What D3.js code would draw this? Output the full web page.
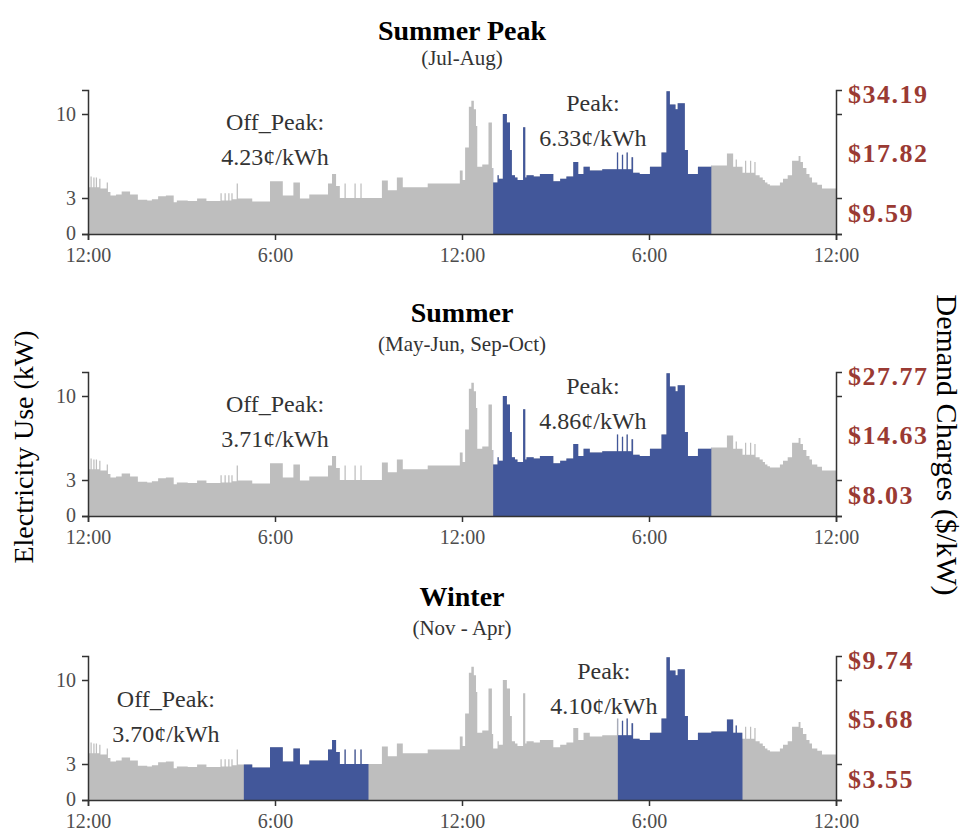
<!DOCTYPE html>
<html>
<head>
<meta charset="utf-8">
<script src="https://cdn.jsdelivr.net/npm/d3@7"></script>
<style>
  body { margin: 0; background: #fff; }
  text { font-family: "Liberation Serif", "DejaVu Serif", serif; }
</style>
</head>
<body>
<script>
// Typical daily load profile (kW), as step breakpoints: hour of day -> kW until next breakpoint
const loadHour = [
  0.00, 0.08, 0.12, 0.17, 0.21, 0.25, 0.29, 0.36, 0.40, 0.60,
  0.64, 0.72, 0.90, 1.08, 1.35, 1.60, 1.90, 2.05, 2.25, 2.50,
  2.75, 2.85, 3.20, 3.50, 3.80, 4.25, 4.29, 4.38, 4.42, 4.50,
  4.54, 4.60, 4.64, 4.77, 4.81, 5.27, 5.84, 6.25, 6.59, 6.80,
  7.10, 7.70, 7.83, 7.96, 8.08, 8.23, 8.27, 8.55, 8.59, 8.74,
  8.78, 9.43, 9.62, 9.91, 10.10, 10.90, 11.93, 12.02, 12.10, 12.22,
  12.30, 12.38, 12.45, 12.49, 12.65, 12.85, 12.96, 13.00, 13.14, 13.18,
  13.31, 13.44, 13.54, 13.60, 13.70, 13.78, 13.96, 14.03, 14.07, 14.30,
  14.50, 14.93, 15.15, 15.35, 15.57, 15.73, 15.90, 16.10, 16.50, 16.97,
  17.01, 17.13, 17.17, 17.28, 17.32, 17.44, 17.49, 17.70, 18.03, 18.40,
  18.56, 18.67, 18.85, 18.92, 19.15, 19.25, 19.57, 20.00, 20.50, 20.70,
  20.78, 20.82, 21.00, 21.08, 21.12, 21.24, 21.28, 21.38, 21.42, 21.55,
  21.65, 21.72, 21.80, 21.88, 22.20, 22.30, 22.45, 22.59, 22.80, 22.86,
  22.94, 23.05, 23.15, 23.23, 23.40, 23.55, 24.00
];
const loadKW = [
  3.9, 4.8, 3.9, 4.7, 3.9, 4.7, 3.9, 4.6, 3.8, 4.3,
  3.5, 3.2, 3.3, 3.55, 3.3, 2.85, 2.8, 2.9, 3.15, 3.2,
  2.65, 2.8, 2.75, 2.95, 2.75, 3.4, 2.8, 3.4, 2.8, 3.4,
  2.8, 3.4, 2.9, 4.2, 2.95, 2.7, 4.4, 3.2, 4.3, 2.95,
  3.3, 4.2, 5.0, 4.0, 3.0, 4.2, 3.0, 4.2, 3.0, 4.2,
  3.0, 4.45, 3.65, 4.7, 3.9, 4.2, 5.3, 4.5, 7.2, 10.6,
  11.1, 10.4, 9.0, 5.6, 5.8, 9.3, 5.5, 4.3, 4.9, 4.6,
  10.0, 9.3, 7.0, 4.9, 4.7, 4.5, 8.9, 4.7, 4.9, 4.8,
  5.0, 4.4, 4.6, 4.8, 6.0, 5.0, 5.6, 5.3, 5.4, 6.8,
  5.4, 6.6, 5.4, 6.8, 5.4, 6.4, 5.1, 5.0, 5.6, 6.8,
  11.9, 10.8, 10.4, 10.9, 7.0, 5.0, 5.6, 5.7, 6.7, 5.6,
  6.2, 5.6, 5.1, 6.1, 5.1, 6.1, 5.1, 6.0, 4.9, 4.7,
  4.5, 4.3, 4.15, 4.05, 4.3, 4.6, 4.9, 6.1, 6.5, 6.0,
  5.5, 5.0, 4.7, 4.3, 4.1, 3.8, 3.8
];

// Rate seasons
const seasons = ["Summer Peak", "Summer", "Winter"];
const seasonMonths = ["(Jul-Aug)", "(May-Jun, Sep-Oct)", "(Nov - Apr)"];
const offPeakRates = ["4.23¢/kWh", "3.71¢/kWh", "3.70¢/kWh"];
const peakRates = ["6.33¢/kWh", "4.86¢/kWh", "4.10¢/kWh"];
// Peak windows (start hour, end hour)
const peakWindows = [[[13, 20]], [[13, 20]], [[5, 9], [17, 21]]];
// Demand charges ($/kW), top to bottom
const demandCharges = [
  ["$34.19", "$17.82", "$9.59"],
  ["$27.77", "$14.63", "$8.03"],
  ["$9.74", "$5.68", "$3.55"]
];

// Axis ticks
const hourTicks = [0, 6, 12, 18, 24];
const hourTickLabels = ["12:00", "6:00", "12:00", "6:00", "12:00"];
const kwTicks = [0, 3, 10];

// ---- layout ----
const W = 963, H = 834;
const panelTops = [90, 372, 656];
const panelH = 144;
// label anchors in data units: [hour, kW]
const offPeakAt = [[6, 7.8], [6, 7.8], [2.5, 6.9]];
const peakAt = [[16.2, 9.4], [16.2, 9.35], [16.55, 9.25]];
const chargeLevels = [11.65, 6.75, 1.75];

const GRAY = "#bebebe", BLUE = "#42579a", INK = "#333333", TICKTXT = "#4d4d4d", MONEY = "#9a3a33";

const svg = d3.select("body").append("svg")
  .attr("width", W).attr("height", H)
  .attr("viewBox", `0 0 ${W} ${H}`);

const x = d3.scaleLinear().domain([0, 24]).range([88, 836]);
const pts = loadHour.map((h, i) => [h, loadKW[i]]);

seasons.forEach((season, i) => {
  const top = panelTops[i];
  const y = d3.scaleLinear().domain([0, 12]).range([top + panelH, top]);
  const g = svg.append("g");

  const area = d3.area()
    .x(d => x(d[0]))
    .y0(y(0))
    .y1(d => y(d[1]))
    .curve(d3.curveStepAfter);

  // whole day in grey
  g.append("path").datum(pts).attr("d", area).attr("fill", GRAY);

  // peak hours in blue
  const clipId = "peak-" + i;
  const cp = svg.append("defs").append("clipPath").attr("id", clipId);
  peakWindows[i].forEach(w => {
    cp.append("rect")
      .attr("x", x(w[0])).attr("width", x(w[1]) - x(w[0]))
      .attr("y", top - 5).attr("height", panelH + 5);
  });
  g.append("path").datum(pts).attr("d", area)
    .attr("fill", BLUE).attr("clip-path", `url(#${clipId})`);

  // axes
  const xAxis = g.append("g").attr("transform", `translate(0,${y(0)})`)
    .call(d3.axisBottom(x).tickValues(hourTicks)
      .tickFormat((d, j) => hourTickLabels[j]).tickSizeOuter(0).tickSize(6).tickPadding(8));
  const yAxis = g.append("g").attr("transform", `translate(${x(0)},0)`)
    .call(d3.axisLeft(y).tickValues(kwTicks).tickSizeOuter(0).tickSize(6).tickPadding(6));
  const y2Axis = g.append("g").attr("transform", `translate(${x(24)},0)`)
    .call(d3.axisRight(y).tickValues(kwTicks).tickFormat("").tickSizeOuter(0).tickSize(6));

  [xAxis, yAxis, y2Axis].forEach(a => {
    a.select(".domain").attr("stroke", INK).attr("stroke-width", 1.5);
    a.selectAll(".tick line").attr("stroke", INK).attr("stroke-width", 1.5);
    a.selectAll(".tick text")
      .attr("fill", TICKTXT)
      .style("font-family", "'Liberation Serif', serif")
      .style("font-size", "20px");
  });
  // keep the lowest y label clear of the first hour label
  yAxis.selectAll(".tick text").filter(d => d === 0).attr("dy", "0.25em");

  // titles
  g.append("text")
    .attr("x", x(12)).attr("y", top - 50)
    .attr("text-anchor", "middle")
    .style("font-size", "28px").style("font-weight", "bold")
    .attr("fill", "#000")
    .text(season);
  g.append("text")
    .attr("x", x(12)).attr("y", top - (i === 0 ? 25 : 21))
    .attr("text-anchor", "middle")
    .style("font-size", "21px")
    .attr("fill", INK)
    .text(seasonMonths[i]);

  // rate annotations
  const note = (pos, lines) => {
    const t = g.append("text")
      .attr("text-anchor", "middle")
      .attr("fill", INK)
      .style("font-size", "24px");
    lines.forEach((ln, k) => {
      t.append("tspan")
        .attr("x", x(pos[0]))
        .attr("y", y(pos[1]) + (k === 0 ? -10 : 25))
        .text(ln);
    });
  };
  note(offPeakAt[i], ["Off_Peak:", offPeakRates[i]]);
  note(peakAt[i], ["Peak:", peakRates[i]]);

  // demand charges along right side
  demandCharges[i].forEach((lbl, k) => {
    g.append("text")
      .attr("x", x(24) + 12)
      .attr("y", y(chargeLevels[k]))
      .attr("dy", "0.35em")
      .attr("fill", MONEY)
      .style("font-size", "26px").style("font-weight", "bold")
      .style("letter-spacing", "1.5px")
      .text(lbl);
  });
});

// shared axis titles
svg.append("text")
  .attr("transform", `translate(33,${447}) rotate(-90)`)
  .attr("text-anchor", "middle")
  .attr("fill", "#000")
  .style("font-size", "28px")
  .text("Electricity Use (kW)");
svg.append("text")
  .attr("transform", `translate(937,${445}) rotate(90)`)
  .attr("text-anchor", "middle")
  .attr("fill", "#000")
  .style("font-size", "30px")
  .text("Demand Charges ($/kW)");
</script>
</body>
</html>
